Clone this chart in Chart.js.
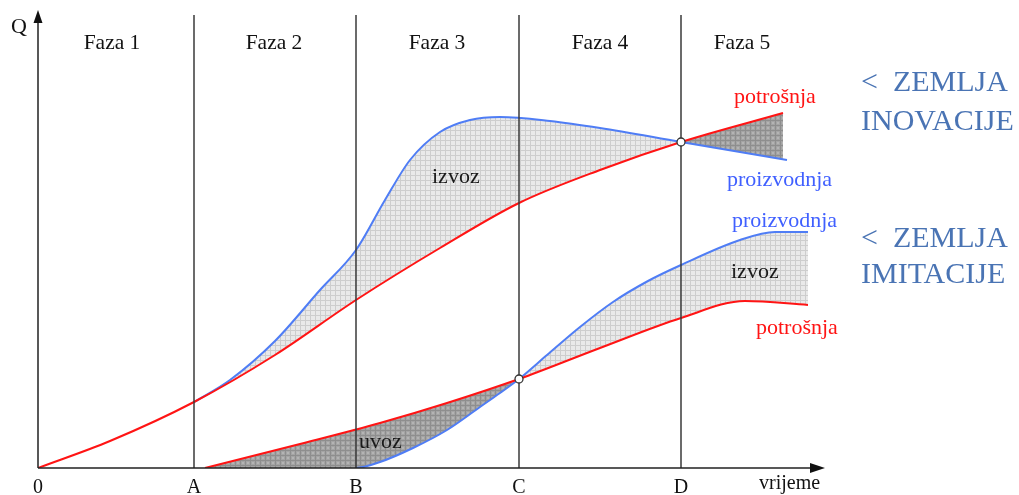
<!DOCTYPE html>
<html>
<head>
<meta charset="utf-8">
<script src="https://cdn.jsdelivr.net/npm/chart.js@4.4.0/dist/chart.umd.min.js"></script>
<style>
  body { margin: 0; background: #fff; }
  canvas { display: block; }
</style>
</head>
<body>
<canvas id="myChart" width="1019" height="495"></canvas>
<script>
// time axis: 0 .. D
const tickLabels = ['0', 'A', 'B', 'C', 'D'];
const tickValues = [0, 156, 318, 481, 643];
const phaseLabels = ['Faza 1', 'Faza 2', 'Faza 3', 'Faza 4', 'Faza 5'];
const phaseCenters = [74, 236, 399, 562, 704];

// zemlja inovacije
const innovConsX = [0, 72, 156, 237, 318, 402, 481, 562, 643, 745];
const innovConsY = [0, 27, 66, 113, 168, 220, 265, 298, 326, 355];
const innovProdX = [156, 192, 237, 282, 318, 347, 372, 402, 432, 462, 512, 562, 643, 749];
const innovProdY = [66, 88, 127, 178, 218, 268, 308, 336, 348, 351, 347, 340, 326, 308];

// zemlja imitacije
const imitConsX = [167, 262, 342, 409, 481, 562, 643, 707, 770];
const imitConsY = [0, 24, 45, 65, 89, 120, 150, 167, 163];
const imitProdX = [167, 318, 342, 375, 409, 442, 462, 481, 509, 542, 575, 610, 643, 702, 737, 770];
const imitProdY = [0, 0, 6, 20, 38, 61, 75, 89, 113, 141, 166, 187, 203, 228, 236, 236];

const crossPoints = [[643, 326], [481, 89]];

const RED = '#ff1414';
const BLUE = '#4f7df5';
const SERIF = '"Liberation Serif", "DejaVu Serif", serif';

function pts(xs, ys) {
  return xs.map((x, i) => ({ x: x, y: ys[i] }));
}

function makePattern(base, line, dot) {
  const c = document.createElement('canvas');
  c.width = 5; c.height = 5;
  const g = c.getContext('2d');
  g.fillStyle = base;
  g.fillRect(0, 0, 5, 5);
  g.fillStyle = line;
  g.fillRect(0, 0, 5, 1);
  g.fillRect(0, 0, 1, 5);
  if (dot) {
    g.fillStyle = dot;
    g.fillRect(2, 2, 2, 2);
  }
  return g.createPattern(c, 'repeat');
}

const ctx = document.getElementById('myChart').getContext('2d');
const lightGrid = makePattern('#e9e9e9', '#cdcdcd');
const darkGrid = makePattern('#a4a4a4', '#8e8e8e', '#b4b4b4');

const decorPlugin = {
  id: 'decor',
  afterDatasetsDraw(chart) {
    const { ctx, scales: { x, y } } = chart;
    const x0 = x.getPixelForValue(0);
    const y0 = y.getPixelForValue(0);
    ctx.save();
    ctx.strokeStyle = '#3a3a3a';
    ctx.lineWidth = 1.5;

    // phase lines
    tickValues.slice(1).forEach(v => {
      const px = x.getPixelForValue(v);
      ctx.beginPath();
      ctx.moveTo(px, y.getPixelForValue(453));
      ctx.lineTo(px, y0);
      ctx.stroke();
    });

    // axes
    ctx.strokeStyle = '#222';
    ctx.beginPath();
    ctx.moveTo(x0, y0);
    ctx.lineTo(x0, y.top + 8);
    ctx.moveTo(x0, y0);
    ctx.lineTo(x.right - 10, y0);
    ctx.stroke();
    ctx.fillStyle = '#111';
    ctx.beginPath();
    ctx.moveTo(x0, y.top);
    ctx.lineTo(x0 - 4.5, y.top + 13);
    ctx.lineTo(x0 + 4.5, y.top + 13);
    ctx.closePath();
    ctx.fill();
    ctx.beginPath();
    ctx.moveTo(x.right, y0);
    ctx.lineTo(x.right - 15, y0 - 5);
    ctx.lineTo(x.right - 15, y0 + 5);
    ctx.closePath();
    ctx.fill();

    // intersection circles
    crossPoints.forEach(p => {
      ctx.beginPath();
      ctx.arc(x.getPixelForValue(p[0]), y.getPixelForValue(p[1]), 4, 0, Math.PI * 2);
      ctx.fillStyle = '#fff';
      ctx.fill();
      ctx.lineWidth = 1.3;
      ctx.strokeStyle = '#333';
      ctx.stroke();
    });

    // texts
    ctx.textAlign = 'center';
    ctx.textBaseline = 'alphabetic';
    ctx.fillStyle = '#111';
    ctx.font = '21.5px ' + SERIF;
    phaseLabels.forEach((t, i) => {
      ctx.fillText(t, x.getPixelForValue(phaseCenters[i]), 49);
    });
    ctx.font = '20px ' + SERIF;
    tickLabels.forEach((t, i) => {
      ctx.fillText(t, x.getPixelForValue(tickValues[i]), 493);
    });
    ctx.font = '22px ' + SERIF;
    ctx.fillText('Q', 19, 33);
    ctx.textAlign = 'left';
    ctx.font = '20px ' + SERIF;
    ctx.fillText('vrijeme', 759, 489);

    ctx.font = '22px ' + SERIF;
    ctx.fillStyle = '#1a1a1a';
    ctx.fillText('izvoz', 432, 183);
    ctx.fillText('izvoz', 731, 278);
    ctx.fillText('uvoz', 359, 448);
    ctx.fillStyle = RED;
    ctx.fillText('potrošnja', 734, 103);
    ctx.fillText('potrošnja', 756, 334);
    ctx.fillStyle = '#4060ff';
    ctx.fillText('proizvodnja', 727, 186);
    ctx.fillText('proizvodnja', 732, 227);

    ctx.fillStyle = '#4a74b4';
    ctx.font = '30px ' + SERIF;
    ctx.fillText('<  ZEMLJA', 861, 91);
    ctx.fillText('INOVACIJE', 861, 130);
    ctx.fillText('<  ZEMLJA', 861, 247);
    ctx.fillText('IMITACIJE', 861, 283);
    ctx.restore();
  }
};

const lineBase = {
  pointRadius: 0,
  borderWidth: 2,
  cubicInterpolationMode: 'monotone'
};

new Chart(ctx, {
  type: 'line',
  data: {
    datasets: [
      Object.assign({ data: pts(innovConsX, innovConsY), borderColor: RED, fill: false }, lineBase),
      Object.assign({
        data: pts(innovProdX, innovProdY), borderColor: BLUE,
        fill: { target: 0, above: lightGrid, below: darkGrid }
      }, lineBase),
      Object.assign({ data: pts(imitConsX, imitConsY), borderColor: RED, fill: false }, lineBase),
      Object.assign({
        data: pts(imitProdX, imitProdY), borderColor: BLUE,
        segment: { borderColor: c => c.p0.parsed.x < 318 ? 'rgba(0,0,0,0)' : BLUE },
        fill: { target: 2, above: lightGrid, below: darkGrid }
      }, lineBase)
    ]
  },
  options: {
    responsive: false,
    animation: false,
    devicePixelRatio: 1,
    layout: { padding: { left: 38, right: 194, top: 10, bottom: 27 } },
    plugins: { legend: { display: false }, tooltip: { enabled: false } },
    scales: {
      x: { type: 'linear', min: 0, max: 787, display: false },
      y: { type: 'linear', min: 0, max: 458, display: false }
    }
  },
  plugins: [decorPlugin]
});
</script>
</body>
</html>
